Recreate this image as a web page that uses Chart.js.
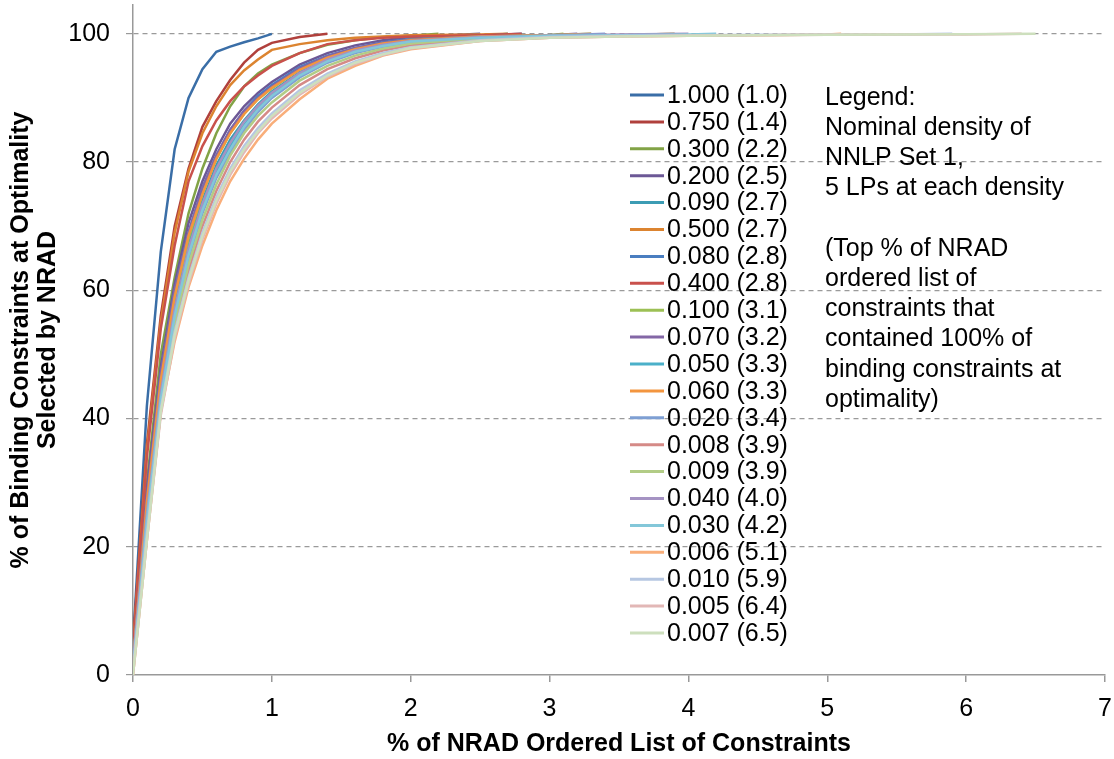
<!DOCTYPE html>
<html>
<head>
<meta charset="utf-8">
<script src="https://cdn.jsdelivr.net/npm/chart.js@4.4.1/dist/chart.umd.min.js"></script>
<style>
  html, body { margin: 0; padding: 0; background: #fff; }
  #wrap { width: 1114px; height: 759px; }
</style>
</head>
<body>
<div id="wrap"><canvas id="myCanvas" width="1114" height="759"></canvas></div>
<script>
// x positions shared by all curves (% of ordered list); each curve stops at its own end value
const xGrid = [0, 0.1, 0.2, 0.3, 0.4, 0.5, 0.6, 0.7, 0.8, 0.9, 1.0, 1.2, 1.4, 1.6, 1.8, 2.0, 2.5, 3.0, 3.5, 4.0, 4.5, 5.0, 5.5, 6.0];

const densities = ['1.000', '0.750', '0.300', '0.200', '0.090', '0.500', '0.080', '0.400', '0.100', '0.070', '0.050',
                   '0.060', '0.020', '0.008', '0.009', '0.040', '0.030', '0.006', '0.010', '0.005', '0.007'];
const endX = [1.0, 1.4, 2.2, 2.5, 2.7, 2.7, 2.8, 2.8, 3.1, 3.2, 3.3, 3.3, 3.4, 3.9, 3.9, 4.0, 4.2, 5.1, 5.9, 6.4, 6.5];

const colors = ['#3a6ea7', '#b0403c', '#82a346', '#6c5896', '#3c9cb4', '#dc8430', '#4a7ec0', '#c9514c', '#9cc055', '#8367a6', '#4bb0c9',
                '#f3953f', '#7e9fd3', '#d58a87', '#b2cc86', '#a593c3', '#83c7d9', '#f9ae7a', '#b6c7e2', '#e2b7b6', '#cddfbd'];

// y values at each xGrid point below endX, last value is at endX
const yVals = [
  [5, 42, 66, 82, 90, 94.5, 97.2, 98, 98.7, 99.3, 100],
  [5, 36, 56, 70, 79, 85.5, 89.5, 92.8, 95.5, 97.5, 98.6, 99.5, 100],
  [4, 30, 50, 62, 72, 79, 84.5, 88.7, 91.8, 93.8, 95.2, 97, 98.3, 99, 99.5, 99.7, 100],
  [3, 29, 48, 61, 70.5, 77, 82, 86, 88.7, 90.8, 92.5, 95.2, 97, 98.2, 99, 99.5, 100],
  [2, 26, 45, 58, 67.5, 74, 79.5, 83.5, 86.5, 89, 91, 94, 96, 97.5, 98.5, 99, 99.6, 100],
  [4, 35, 55, 69, 78.5, 84.5, 88.7, 92, 94.3, 96, 97.5, 98.4, 99, 99.4, 99.6, 99.8, 99.9, 100],
  [2, 27, 47, 60, 69, 76, 81, 85, 88, 90.3, 92, 94.8, 96.6, 97.8, 98.7, 99.2, 99.7, 100],
  [4, 34, 54, 67, 77, 82.5, 86.5, 89.5, 91.8, 93.5, 95, 97, 98.4, 99, 99.4, 99.6, 99.8, 100],
  [2, 27, 46, 59, 68, 75, 80.5, 84.5, 87.5, 89.8, 91.5, 94.5, 96.4, 97.7, 98.5, 99.1, 99.6, 99.8, 100],
  [2, 28, 47, 60, 69, 76, 81, 85, 88, 90, 91.8, 94.6, 96.5, 97.8, 98.6, 99.1, 99.6, 99.8, 100],
  [2, 25, 44, 57, 66, 73, 78.5, 82.5, 85.8, 88.5, 90.5, 93.6, 95.8, 97.2, 98.2, 98.9, 99.5, 99.8, 100],
  [2, 27, 46, 59, 68.5, 75, 80.5, 84.5, 87.5, 89.8, 91.6, 94.4, 96.3, 97.6, 98.5, 99, 99.6, 99.8, 100],
  [1, 24, 43, 56, 65, 72, 77.5, 81.5, 85, 87.8, 90, 93.2, 95.5, 97, 98, 98.7, 99.4, 99.7, 100],
  [1, 22, 41, 54, 63, 70, 75.5, 80, 83.5, 86.3, 88.5, 92, 94.5, 96.2, 97.4, 98.2, 99.2, 99.6, 99.8, 100],
  [1, 23, 42, 55, 64, 71, 76.5, 81, 84.5, 87.2, 89.3, 92.7, 95, 96.6, 97.7, 98.5, 99.3, 99.6, 99.8, 100],
  [2, 25, 44, 57, 66.5, 73.5, 79, 83, 86.3, 88.8, 90.8, 93.9, 96, 97.4, 98.3, 98.9, 99.5, 99.7, 99.9, 100],
  [1, 24, 43, 56, 65.5, 72.5, 78, 82, 85.5, 88.2, 90.3, 93.5, 95.7, 97.2, 98.1, 98.8, 99.4, 99.7, 99.8, 99.9, 100],
  [0, 21, 41, 52, 60.5, 67, 72.5, 77, 80.5, 83.5, 86, 89.8, 93, 95, 96.6, 97.6, 98.9, 99.4, 99.6, 99.7, 99.8, 99.9, 100],
  [1, 22, 41.5, 53.5, 62, 69, 74.5, 79, 82.5, 85.3, 87.6, 91.2, 93.8, 95.7, 97, 97.9, 99, 99.5, 99.7, 99.8, 99.85, 99.9, 99.9, 100],
  [0, 21, 40.5, 52.5, 61, 68, 73.5, 78, 81.5, 84.5, 86.8, 90.5, 93.3, 95.3, 96.7, 97.7, 98.9, 99.4, 99.6, 99.7, 99.8, 99.85, 99.9, 99.9, 100],
  [0, 21, 41, 53, 61.5, 68.5, 74, 78.5, 82, 84.8, 87.2, 90.8, 93.5, 95.5, 96.8, 97.8, 98.9, 99.4, 99.6, 99.7, 99.8, 99.85, 99.9, 99.95, 100]
];

const noteLines = ['Legend:', 'Nominal density of', 'NNLP Set 1,', '5 LPs at each density', '',
                   '(Top % of NRAD', 'ordered list of', 'constraints that', 'contained 100% of',
                   'binding constraints at', 'optimality)'];

const FONT = '"Liberation Sans", Arial, sans-serif';

const datasets = densities.map((d, i) => {
  const ys = yVals[i];
  const pts = ys.map((y, k) => ({ x: k < ys.length - 1 ? xGrid[k] : endX[i], y: y }));
  return {
    label: d + ' (' + endX[i].toFixed(1) + ')',
    data: pts,
    borderColor: colors[i],
    backgroundColor: colors[i],
    borderWidth: 2.5,
    pointRadius: 0,
    fill: false,
    tension: 0,
    order: -i
  };
});

// hand-drawn legend + side note, placed like the original
const sideLegend = {
  id: 'sideLegend',
  afterDraw(chart) {
    const c = chart.ctx;
    c.save();
    c.font = '25px ' + FONT;
    c.textBaseline = 'middle';
    c.fillStyle = '#000';
    chart.data.datasets.forEach((ds, i) => {
      const y = 95 + i * 26.9;
      c.strokeStyle = ds.borderColor;
      c.lineWidth = 3;
      c.beginPath();
      c.moveTo(630, y);
      c.lineTo(664, y);
      c.stroke();
      c.fillText(ds.label, 667, y + 1);
    });
    noteLines.forEach((t, i) => {
      c.fillText(t, 825, 98 + i * 30.2);
    });
    c.restore();
  }
};

const ctx = document.getElementById('myCanvas').getContext('2d');

const myChart = new Chart(ctx, {
  type: 'line',
  data: { datasets: datasets },
  plugins: [sideLegend],
  options: {
    responsive: false,
    animation: false,
    layout: { padding: { top: 5, right: 9, left: 0, bottom: 0 } },
    plugins: {
      legend: { display: false },
      tooltip: { enabled: false }
    },
    scales: {
      x: {
        type: 'linear',
        min: 0,
        max: 7,
        ticks: { stepSize: 1, color: '#000', font: { family: FONT, size: 25 }, padding: 12 },
        border: { color: '#999', width: 1.5 },
        grid: { drawOnChartArea: false, tickLength: 7, color: '#999', lineWidth: 1.5 },
        title: {
          display: true,
          text: '% of NRAD Ordered List of Constraints',
          color: '#000',
          font: { family: FONT, size: 25, weight: 'bold', lineHeight: 1.2 },
          padding: { top: 0, bottom: 0 }
        },
        afterFit(scale) {
          scale.height = 84;
          scale.paddingLeft = 0;
          scale.paddingRight = 0;
        }
      },
      y: {
        min: 0,
        max: 104.5,
        ticks: { stepSize: 20, includeBounds: false, color: '#000', font: { family: FONT, size: 25 }, padding: 16 },
        border: { color: '#999', width: 1.5, dash: [5, 4] },
        grid: {
          color: (c) => c.tick && c.tick.value === 0 ? 'rgba(0,0,0,0)' : '#9a9a9a',
          lineWidth: 1.2,
          tickLength: 7,
          tickColor: '#999',
          tickBorderDash: []
        },
        title: {
          display: true,
          text: ['% of Binding Constraints at Optimality', 'Selected by NRAD'],
          color: '#000',
          font: { family: FONT, size: 25, weight: 'bold', lineHeight: 1.1 },
          padding: { top: 7, bottom: 0 }
        },
        afterFit(scale) {
          scale.width = 133;
          scale.paddingTop = 0;
          scale.paddingBottom = 0;
        }
      }
    }
  }
});
</script>
</body>
</html>
